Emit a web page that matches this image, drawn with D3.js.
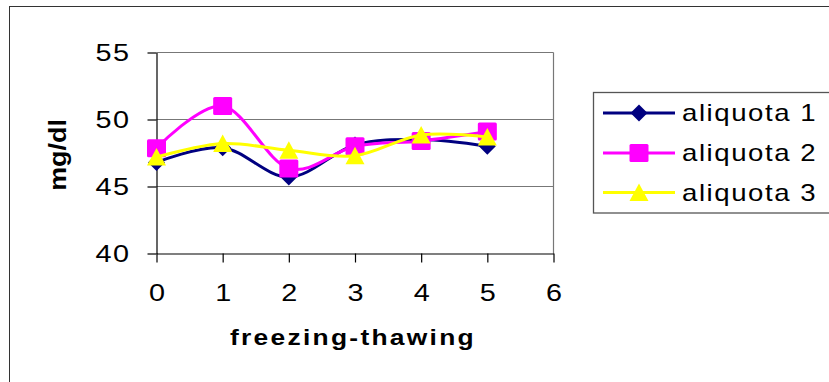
<!DOCTYPE html>
<html>
<head>
<meta charset="utf-8">
<script src="https://cdn.jsdelivr.net/npm/d3@7"></script>
<style>
  html, body { margin: 0; padding: 0; background: #fff; }
  svg { display: block; }
  text { font-family: "Liberation Sans", Arial, sans-serif; fill: #000; }
</style>
</head>
<body>
<svg id="chart" width="829" height="382"></svg>
<script>
// Freeze-thaw cycles and measured concentration (mg/dl) per aliquot
const cycles = [0, 1, 2, 3, 4, 5];
const aliquota1 = [46.8, 47.9, 45.7, 48.1, 48.5, 48.0];
const aliquota2 = [47.85, 51.0, 46.35, 48.0, 48.4, 49.1];
const aliquota3 = [47.2, 48.2, 47.7, 47.3, 48.85, 48.7];
const seriesNames = ["aliquota 1", "aliquota 2", "aliquota 3"];
const xTicks = [0, 1, 2, 3, 4, 5, 6];
const yTicks = [40, 45, 50, 55];

const seriesStyle = [
  { color: "#000080", marker: "diamond" },
  { color: "#FF00FF", marker: "square" },
  { color: "#FFFF00", marker: "triangle" }
];
const seriesData = [aliquota1, aliquota2, aliquota3];

// Widen glyphs horizontally around the text's own x anchor
const SX = 1.2;
function widen(sel, sx) {
  sel.each(function () {
    const t = d3.select(this);
    const ax = +t.attr("x") || 0;
    t.attr("transform", `translate(${ax},0) scale(${sx},1) translate(${-ax},0)`);
  });
}

const svg = d3.select("#chart");

// Chart frame (extends past the right and bottom edges of the view)
svg.append("rect")
  .attr("x", 9.5).attr("y", 6.5)
  .attr("width", 900).attr("height", 500)
  .attr("fill", "none").attr("stroke", "#333").attr("stroke-width", 1);

const x = d3.scaleLinear().domain([0, 6]).range([156.5, 553.5]);
const y = d3.scaleLinear().domain([40, 55]).range([253.5, 52.5]);

// Horizontal gridlines
svg.append("g").selectAll("line")
  .data(yTicks.filter(v => v > 40))
  .join("line")
  .attr("x1", x(0)).attr("x2", x(6))
  .attr("y1", d => y(d)).attr("y2", d => y(d))
  .attr("stroke", "#777").attr("stroke-width", 1.2);

// Right edge of plot area
svg.append("line")
  .attr("x1", x(6)).attr("x2", x(6))
  .attr("y1", y(55)).attr("y2", y(40))
  .attr("stroke", "#777").attr("stroke-width", 1.2);

// Y axis
const yAxis = svg.append("g")
  .attr("transform", `translate(${x(0)},0)`)
  .call(d3.axisLeft(y).tickValues(yTicks).tickSize(9).tickPadding(17).tickSizeOuter(0));
yAxis.select(".domain").attr("stroke", "#000").attr("stroke-width", 1.2);
yAxis.selectAll(".tick line").attr("stroke", "#000").attr("stroke-width", 1.2);
yAxis.selectAll(".tick text")
  .attr("font-size", 24).attr("letter-spacing", 1.2)
  .attr("font-family", "Liberation Sans, Arial, sans-serif")
  .attr("fill", "#000")
  .call(widen, SX);

// X axis
const xAxis = svg.append("g")
  .attr("transform", `translate(0,${y(40)})`)
  .call(d3.axisBottom(x).tickValues(xTicks).tickFormat(d3.format("d"))
    .tickSize(9).tickPadding(21).tickSizeOuter(0));
xAxis.select(".domain").attr("stroke", "#000").attr("stroke-width", 1.2);
xAxis.selectAll(".tick line").attr("stroke", "#000").attr("stroke-width", 1.2);
xAxis.selectAll(".tick text")
  .attr("font-size", 24)
  .attr("font-family", "Liberation Sans, Arial, sans-serif")
  .attr("fill", "#000")
  .call(widen, SX);

// Axis titles
svg.append("text")
  .attr("x", 353).attr("y", 345)
  .attr("text-anchor", "middle")
  .attr("font-size", 22).attr("font-weight", "bold").attr("letter-spacing", 1.9)
  .text("freezing-thawing")
  .call(widen, SX);

svg.append("text")
  .attr("transform", `translate(65.5,155) rotate(-90) scale(1.17,1)`)
  .attr("text-anchor", "middle")
  .attr("font-size", 23).attr("font-weight", "bold")
  .text("mg/dl");

// Marker shapes
function drawMarker(g, type, cx, cy, color) {
  if (type === "diamond") {
    g.append("path")
      .attr("d", `M${cx},${cy - 8.5}L${cx + 8.5},${cy}L${cx},${cy + 8.5}L${cx - 8.5},${cy}Z`)
      .attr("fill", color);
  } else if (type === "square") {
    g.append("rect")
      .attr("x", cx - 9.5).attr("y", cy - 9)
      .attr("width", 19).attr("height", 18)
      .attr("rx", 1.5)
      .attr("fill", color);
  } else {
    g.append("path")
      .attr("d", `M${cx},${cy - 9}L${cx + 9.5},${cy + 8.5}L${cx - 9.5},${cy + 8.5}Z`)
      .attr("fill", color);
  }
}

const line = d3.line()
  .x((d, i) => x(cycles[i]))
  .y(d => y(d))
  .curve(d3.curveCardinal.tension(0));

seriesData.forEach((vals, s) => {
  const g = svg.append("g");
  g.append("path")
    .attr("d", line(vals))
    .attr("fill", "none")
    .attr("stroke", seriesStyle[s].color)
    .attr("stroke-width", 3);
  vals.forEach((v, i) => drawMarker(g, seriesStyle[s].marker, x(cycles[i]), y(v), seriesStyle[s].color));
});

// Legend
const legend = svg.append("g");
legend.append("rect")
  .attr("x", 593.5).attr("y", 92.5)
  .attr("width", 300).attr("height", 120.5)
  .attr("fill", "#fff").attr("stroke", "#555").attr("stroke-width", 1.3);

const legendRows = [113, 153, 192.5];
seriesNames.forEach((name, s) => {
  const ly = legendRows[s];
  legend.append("line")
    .attr("x1", 603).attr("x2", 675)
    .attr("y1", ly).attr("y2", ly)
    .attr("stroke", seriesStyle[s].color).attr("stroke-width", 3);
  drawMarker(legend, seriesStyle[s].marker, 639, ly, seriesStyle[s].color);
  legend.append("text")
    .attr("x", 682).attr("y", ly + 8.5)
    .attr("font-size", 23).attr("letter-spacing", 1.3)
    .text(name)
    .call(widen, SX);
});
</script>
</body>
</html>
